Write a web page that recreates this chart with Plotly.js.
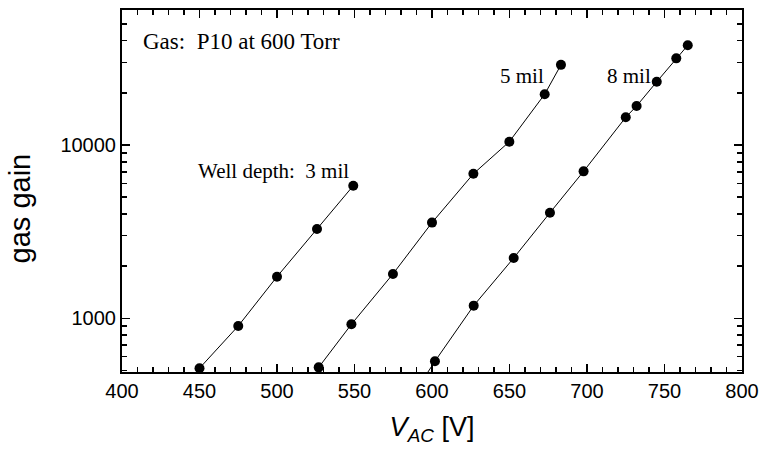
<!DOCTYPE html>
<html>
<head>
<meta charset="utf-8">
<script src="https://cdn.plot.ly/plotly-3.0.1.min.js"></script>
<style>html,body{margin:0;padding:0;background:#fff;}#chart{width:759px;height:451px;}</style>
</head>
<body>
<div id="chart"></div>
<script>
// Well depth 3 mil
const v3 = [450, 475, 500, 525.8, 549.2];
const g3 = [515, 903, 1738, 3275, 5820];
// Well depth 5 mil
const v5 = [526.9, 548, 574.8, 600, 626.7, 649.9, 672.7, 683.2];
const g5 = [521, 923, 1802, 3565, 6820, 10450, 19630, 29000];
// Well depth 8 mil (first point lies below the visible range)
const v8 = [594, 601.9, 626.9, 652.7, 676.1, 697.8, 725, 732, 745, 757.6, 765];
const g8 = [440, 565, 1183, 2228, 4065, 7046, 14450, 16790, 23170, 31620, 37600];

const yMajor = [1000, 10000];
const yMajorText = ['1000', '10000'];
const yMinor = [500, 600, 700, 800, 900, 2000, 3000, 4000, 5000, 6000, 7000, 8000, 9000, 20000, 30000, 40000, 50000];

function trace(x, y) {
  return {
    x: x, y: y, type: 'scatter', mode: 'lines+markers',
    line: {color: '#000', width: 1},
    marker: {color: '#000', size: 10},
    showlegend: false, hoverinfo: 'skip'
  };
}

const serif = 'Liberation Serif, Times New Roman, serif';
const sans = 'Liberation Sans, Arial, sans-serif';

const layout = {
  width: 759, height: 451,
  margin: {l: 122, r: 17, t: 10, b: 79},
  paper_bgcolor: '#fff', plot_bgcolor: '#fff',
  font: {family: sans, color: '#000'},
  xaxis: {
    range: [400, 800], dtick: 50, tick0: 400,
    showgrid: false, zeroline: false,
    showline: true, linecolor: '#000', linewidth: 2, mirror: 'allticks',
    ticks: 'inside', ticklen: 8, tickwidth: 1.5, tickcolor: '#000',
    tickfont: {family: sans, size: 20, color: '#000'},
    minor: {dtick: 10, tick0: 400, ticks: 'inside', ticklen: 5, tickwidth: 1.5, tickcolor: '#000', showgrid: false},
    title: {text: '<i>V</i><sub><i>AC</i></sub> [V]', font: {family: sans, size: 27, color: '#000'}, standoff: 16}
  },
  yaxis: {
    type: 'log', range: [2.690, 4.779],
    tickmode: 'array', tickvals: yMajor, ticktext: yMajorText,
    showgrid: false, zeroline: false,
    showline: true, linecolor: '#000', linewidth: 2, mirror: 'allticks',
    ticks: 'inside', ticklen: 8, tickwidth: 1.5, tickcolor: '#000',
    tickfont: {family: sans, size: 20, color: '#000'},
    minor: {tickmode: 'array', tickvals: yMinor, ticks: 'inside', ticklen: 5, tickwidth: 1.5, tickcolor: '#000', showgrid: false}
  },
  annotations: [
    {xref: 'paper', yref: 'paper', x: -0.1639, y: 0.453, text: 'gas gain', textangle: -90,
     showarrow: false, xanchor: 'center', yanchor: 'middle', font: {family: sans, size: 29, color: '#000'}},
    {xref: 'paper', yref: 'paper', x: 0.030, y: 0.913, text: 'Gas:&nbsp; P10 at 600 Torr',
     showarrow: false, xanchor: 'left', yanchor: 'middle', font: {family: serif, size: 23, color: '#000'}},
    {xref: 'paper', yref: 'paper', x: 0.119, y: 0.5566, text: 'Well depth:&nbsp; 3 mil',
     showarrow: false, xanchor: 'left', yanchor: 'middle', font: {family: serif, size: 21, color: '#000'}},
    {xref: 'paper', yref: 'paper', x: 0.684, y: 0.819, text: '5 mil',
     showarrow: false, xanchor: 'right', yanchor: 'middle', font: {family: serif, size: 21, color: '#000'}},
    {xref: 'paper', yref: 'paper', x: 0.779, y: 0.819, text: '8 mil',
     showarrow: false, xanchor: 'left', yanchor: 'middle', font: {family: serif, size: 21, color: '#000'}}
  ]
};

Plotly.newPlot('chart', [trace(v3, g3), trace(v5, g5), trace(v8, g8)], layout, {displayModeBar: false, staticPlot: true});
</script>
</body>
</html>
